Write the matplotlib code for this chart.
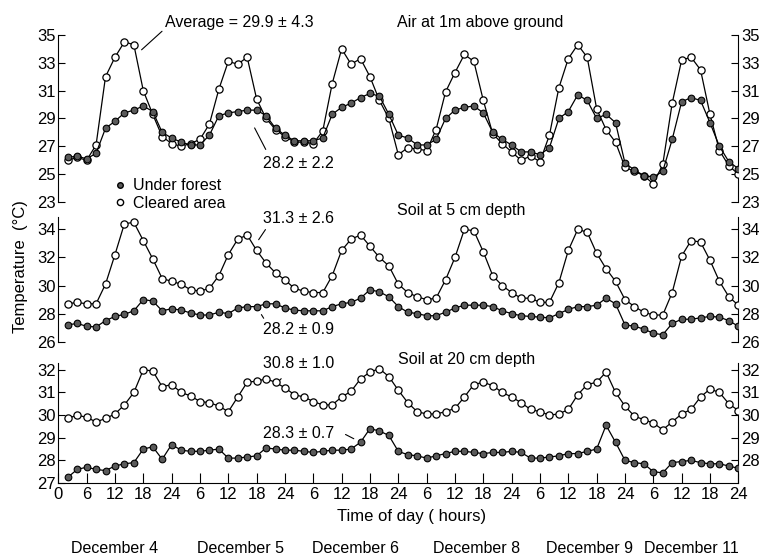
import numpy as np
import matplotlib
matplotlib.use("Agg")
import matplotlib.pyplot as plt
from matplotlib.lines import Line2D
from matplotlib.transforms import blended_transform_factory

plt.rcParams['font.family'] = ['Liberation Sans', 'DejaVu Sans']
plt.rcParams['font.size'] = 11.5

# readings every 2 hours, Dec 4 - Dec 11
hours = np.arange(2, 145, 2)

air_forest = [26.2, 26.3, 26.1, 26.5, 28.3, 28.8, 29.4, 29.6, 29.9, 29.5, 28.0, 27.6,
              27.3, 27.1, 27.1, 27.8, 29.2, 29.4, 29.5, 29.6, 29.6, 29.2, 28.3, 27.8,
              27.4, 27.4, 27.4, 27.6, 29.3, 29.8, 30.1, 30.5, 30.8, 30.6, 29.3, 27.8,
              27.6, 27.1, 27.1, 27.5, 29.0, 29.6, 29.8, 29.9, 29.4, 28.0, 27.5, 27.1,
              26.6, 26.6, 26.4, 26.9, 29.0, 29.5, 30.7, 30.3, 29.0, 29.3, 28.7, 25.8,
              25.3, 24.9, 24.8, 25.2, 27.5, 30.2, 30.5, 30.3, 28.7, 27.0, 25.9, 25.4]
air_cleared = [26.0, 26.2, 26.0, 27.1, 32.0, 33.4, 34.5, 34.3, 31.0, 29.3, 27.7, 27.2,
               27.0, 27.2, 27.5, 28.6, 31.1, 33.1, 32.9, 33.4, 30.4, 29.0, 28.2, 27.7,
               27.3, 27.3, 27.2, 28.1, 31.5, 34.0, 32.9, 33.3, 32.0, 30.3, 29.0, 26.4,
               26.9, 26.8, 26.7, 28.2, 30.9, 32.3, 33.6, 33.1, 30.3, 27.9, 27.2, 26.6,
               26.0, 26.3, 25.9, 27.8, 31.2, 33.3, 34.3, 33.4, 29.7, 28.2, 27.3, 25.5,
               25.2, 24.9, 24.3, 25.7, 30.1, 33.2, 33.4, 32.5, 29.3, 26.7, 25.6, 25.0]

soil5_forest = [27.2, 27.3, 27.1, 27.05, 27.5, 27.8, 27.95, 28.2, 29.0, 28.9, 28.2, 28.35,
                28.25, 28.05, 27.9, 27.9, 28.1, 28.0, 28.4, 28.5, 28.5, 28.7, 28.7, 28.4,
                28.25, 28.2, 28.2, 28.2, 28.5, 28.7, 28.8, 29.1, 29.7, 29.55, 29.2, 28.5,
                28.1, 28.0, 27.85, 27.85, 28.1, 28.4, 28.6, 28.6, 28.6, 28.5, 28.2, 28.0,
                27.85, 27.8, 27.75, 27.7, 28.0, 28.3, 28.5, 28.5, 28.6, 29.1, 28.7, 27.2,
                27.1, 26.9, 26.6, 26.5, 27.3, 27.6, 27.6, 27.7, 27.8, 27.75, 27.5, 27.1]
soil5_cleared = [28.7, 28.8, 28.7, 28.7, 30.1, 32.2, 34.4, 34.5, 33.2, 31.9, 30.5, 30.3,
                 30.1, 29.7, 29.6, 29.8, 30.7, 32.2, 33.3, 33.6, 32.5, 31.6, 30.9, 30.4,
                 29.8, 29.6, 29.5, 29.5, 30.7, 32.5, 33.3, 33.6, 32.8, 32.0, 31.4, 30.1,
                 29.5, 29.2, 29.0, 29.1, 30.4, 32.0, 34.0, 33.9, 32.4, 30.7, 30.0, 29.5,
                 29.1, 29.1, 28.8, 28.8, 30.2, 32.5, 34.0, 33.8, 32.3, 31.2, 30.3, 29.0,
                 28.5, 28.1, 27.9, 27.9, 29.5, 32.1, 33.2, 33.1, 31.8, 30.3, 29.2, 28.6]

soil20_forest = [27.25, 27.6, 27.7, 27.6, 27.55, 27.75, 27.85, 27.9, 28.5, 28.6, 28.05, 28.7,
                 28.45, 28.4, 28.4, 28.45, 28.5, 28.1, 28.1, 28.15, 28.2, 28.55, 28.5, 28.45,
                 28.45, 28.4, 28.35, 28.4, 28.45, 28.45, 28.5, 28.8, 29.4, 29.3, 29.1, 28.4,
                 28.25, 28.2, 28.1, 28.2, 28.3, 28.4, 28.4, 28.35, 28.3, 28.35, 28.35, 28.4,
                 28.35, 28.1, 28.1, 28.15, 28.2, 28.3, 28.3, 28.4, 28.5, 29.55, 28.8, 28.0,
                 27.9, 27.85, 27.5, 27.45, 27.9, 27.95, 28.0, 27.9, 27.85, 27.85, 27.75, 27.65]
soil20_cleared = [29.85, 30.0, 29.9, 29.7, 29.85, 30.05, 30.45, 31.0, 32.0, 31.95, 31.25, 31.35,
                  31.0, 30.85, 30.6, 30.55, 30.4, 30.15, 30.8, 31.45, 31.5, 31.6, 31.45, 31.2,
                  30.9, 30.8, 30.6, 30.45, 30.45, 30.8, 31.05, 31.6, 31.9, 32.05, 31.7, 31.1,
                  30.55, 30.15, 30.05, 30.05, 30.15, 30.3, 30.8, 31.35, 31.45, 31.3, 31.0, 30.8,
                  30.55, 30.25, 30.15, 30.0, 30.05, 30.25, 30.9, 31.35, 31.45, 31.9, 31.0, 30.4,
                  29.95, 29.8, 29.65, 29.35, 29.7, 30.05, 30.25, 30.8, 31.15, 31.0, 30.5, 30.2]

xtick_pos = np.arange(0, 145, 6)
xtick_labels = ['0', '6', '12', '18', '24', '6', '12', '18', '24', '6', '12', '18', '24',
                '6', '12', '18', '24', '6', '12', '18', '24', '6', '12', '18', '24']
dates = ['December 4', 'December 5', 'December 6', 'December 8', 'December 9', 'December 11']
date_x = [12, 38.5, 63, 88.5, 112.5, 134]

fig = plt.figure(figsize=(7.65, 5.55), dpi=100)
L, W = 0.0762, 0.8889
ax1 = fig.add_axes([L, 0.636, W, 0.301])
ax2 = fig.add_axes([L, 0.3843, W, 0.2252])
ax3 = fig.add_axes([L, 0.1297, W, 0.2162])

panels = [(ax1, air_forest, air_cleared, (23, 35), np.arange(23, 36, 2), np.arange(23, 36, 2)),
          (ax2, soil5_forest, soil5_cleared, (26, 34.9), np.arange(26, 35, 2), np.arange(26, 35, 2)),
          (ax3, soil20_forest, soil20_cleared, (27, 32.3), np.arange(27, 33, 1), np.arange(28, 33, 1))]

for ax, forest, cleared, ylim, yt, yt_right in panels:
    ax.plot(hours, cleared, '-', color='black', lw=0.9, marker='o', ms=5.2,
            mfc='white', mec='black', mew=0.9, zorder=2)
    ax.plot(hours, forest, '-', color='black', lw=0.9, marker='o', ms=4.8,
            mfc='#5a5a5a', mec='black', mew=0.8, zorder=3)
    ax.set_xlim(0, 144)
    ax.set_ylim(*ylim)
    ax.set_yticks(yt)
    ax.tick_params(axis='y', direction='in', length=5, pad=2, labelsize=12)
    ax.spines['top'].set_visible(False)
    ax.spines['right'].set_visible(False)
    ax.patch.set_alpha(0)
    sec = ax.secondary_yaxis('right')
    sec.set_yticks(yt_right)
    sec.tick_params(axis='y', direction='in', length=5, pad=2, labelsize=12)

for ax in (ax1, ax2):
    ax.spines['bottom'].set_visible(False)
    ax.set_xticks([])

ax3.set_xticks(xtick_pos)
ax3.set_xticklabels(xtick_labels)
ax3.tick_params(axis='x', direction='in', length=7, pad=3, labelsize=12)

line_kw = dict(arrowprops=dict(arrowstyle='-', lw=0.8, color='black'), annotation_clip=False)

# top panel
ax1.text(22.6, 35.9, 'Average = 29.9 \u00b1 4.3', va='center', ha='left')
ax1.annotate('', xy=(17.2, 33.8), xytext=(22.4, 35.4), **line_kw)
ax1.text(71.8, 35.9, 'Air at 1m above ground', va='center', ha='left')
ax1.text(43.4, 25.8, '28.2 \u00b1 2.2', va='center', ha='left')
ax1.annotate('', xy=(41.3, 28.5), xytext=(44.2, 26.6), **line_kw)
handles = [Line2D([], [], ls='none', marker='o', ms=4, mfc='#5a5a5a', mec='black'),
           Line2D([], [], ls='none', marker='o', ms=4.5, mfc='white', mec='black')]
ax1.legend(handles, ['Under forest', 'Cleared area'], loc='upper left',
           bbox_to_anchor=(0.072, 0.19), frameon=False, handlelength=0.6,
           handletextpad=0.5, labelspacing=0.15, borderpad=0, fontsize=11.5)

# middle panel
ax2.text(71.8, 35.35, 'Soil at 5 cm depth', va='center', ha='left')
ax2.text(43.4, 34.75, '31.3 \u00b1 2.6', va='center', ha='left')
ax2.annotate('', xy=(42.1, 33.1), xytext=(44.2, 34.15), **line_kw)
ax2.text(43.4, 26.85, '28.2 \u00b1 0.9', va='center', ha='left')
ax2.annotate('', xy=(42.7, 28.1), xytext=(43.8, 27.5), **line_kw)

# bottom panel
ax3.text(72, 32.45, 'Soil at 20 cm depth', va='center', ha='left')
ax3.text(43.4, 32.3, '30.8 \u00b1 1.0', va='center', ha='left')
ax3.annotate('', xy=(46.5, 31.45), xytext=(47.6, 31.7), **line_kw)
ax3.text(43.4, 29.2, '28.3 \u00b1 0.7', va='center', ha='left')
ax3.annotate('', xy=(63.1, 28.9), xytext=(60.3, 29.2), **line_kw)

fig.text(0.027, 0.52, 'Temperature  (\u00b0C)', rotation=90, va='center', ha='center', fontsize=12)
fig.text(0.5386, 0.07, 'Time of day ( hours)', va='center', ha='center', fontsize=12)
date_trans = blended_transform_factory(ax3.transData, fig.transFigure)
for d, x in zip(dates, date_x):
    ax3.text(x, 0.0126, d, transform=date_trans, va='center', ha='center', fontsize=11.5)

fig.savefig('out.png', dpi=100)
